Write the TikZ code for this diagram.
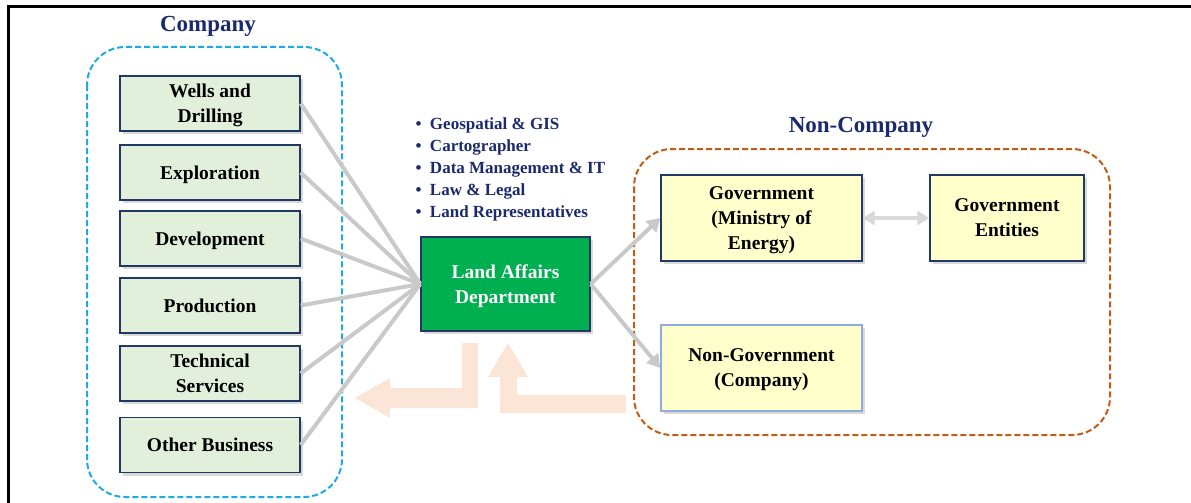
\documentclass[tikz,border=0pt]{standalone}
\usepackage{fontspec}
\setmainfont{Liberation Serif}
\usepackage{xcolor}
\usepackage{tikz}
\usetikzlibrary{arrows.meta,shadows}

\definecolor{navy}{HTML}{1F3864}
\definecolor{titleblue}{HTML}{1A2A6C}
\definecolor{unitfill}{HTML}{E2EFDA}
\definecolor{landgreen}{HTML}{00B050}
\definecolor{govfill}{HTML}{FFFFCC}
\definecolor{lightnavy}{HTML}{8FAADC}
\definecolor{skyblue}{HTML}{1CA9E6}
\definecolor{rust}{HTML}{C55A11}
\definecolor{peach}{HTML}{FBE5D6}
\definecolor{link}{HTML}{C9C9C9}
\definecolor{linklight}{HTML}{D9D9D9}

\begin{document}
\begin{tikzpicture}[
  x=1pt, y=-1pt,
  boxfont/.style={font=\fontsize{19.5}{25}\selectfont\bfseries},
  titlefont/.style={font=\fontsize{23}{27}\selectfont\bfseries, text=titleblue},
  shade box/.style={draw=navy, line width=1.4pt, inner sep=0pt, align=center, boxfont,
    text depth=0pt,
    drop shadow={shadow xshift=3pt, shadow yshift=-3pt, opacity=0.3}},
  unit/.style={shade box, fill=unitfill, minimum width=180pt, minimum height=55pt},
  govbox/.style={shade box, fill=govfill, minimum height=86pt},
  group/.style={rounded corners=38pt, dashed, line width=2pt, dash pattern=on 6pt off 3pt},
  feed/.style={draw=link, line width=4pt},
  flow/.style={draw=link, line width=4pt, -{Triangle[length=13pt,width=15pt]}}
]
  \useasboundingbox (0,0) rectangle (1191,503);
  \draw[line width=3pt] (8,503) -- (8,7) -- (1191,7);

  % company side
  \draw[group, draw=skyblue] (87,47) rectangle (342,497);
  \node[titlefont] (company) at (208,26) {Company};
  \node[unit] (wells) at (210,103.5) {Wells and\\Drilling};
  \node[unit] (explo) at (210,172.5) {Exploration};
  \node[unit] (devel) at (210,238.5) {Development};
  \node[unit] (prod) at (210,305.5) {Production};
  \node[unit] (tech) at (210,373.5) {Technical\\Services};
  \node[unit] (other) at (210,445) {Other Business};

  % feedback arrows
  \fill[peach] (478,343) -- (478,408) -- (390,408) -- (390,418) -- (355,398)
    -- (390,378) -- (390,388) -- (462,388) -- (462,343) -- cycle;
  \fill[peach] (626,395) -- (626,413) -- (500,413) -- (500,377) -- (488,377)
    -- (508,343) -- (528,377) -- (517,377) -- (517,395) -- cycle;

  % land affairs
  \node[shade box, fill=landgreen, text=white, minimum width=169pt, minimum height=94pt]
    (land) at (505.5,284) {Land Affairs\\Department};
  \node[anchor=north west, align=left, text=titleblue,
    font=\fontsize{17}{22}\selectfont\bfseries] (roles) at (412,114)
    {\textbullet\ \ Geospatial \& GIS\\
     \textbullet\ \ Cartographer\\
     \textbullet\ \ Data Management \& IT\\
     \textbullet\ \ Law \& Legal\\
     \textbullet\ \ Land Representatives};

  \foreach \u in {wells,explo,devel,prod,tech,other}
    \draw[feed] (\u.east) -- (land.west);

  % non-company side
  \draw[group, draw=rust] (634,149) rectangle (1110,435);
  \node[titlefont] (noncompany) at (861,127) {Non-Company};
  \node[govbox, minimum width=201pt] (gov) at (761.5,218) {Government\\(Ministry of\\Energy)};
  \node[govbox, minimum width=154pt] (entities) at (1007,218) {Government\\Entities};
  \node[govbox, draw=lightnavy, minimum width=201pt] (nongov) at (761.5,368) {Non-Government\\(Company)};

  \draw[flow] (land.east) -- (gov.west);
  \draw[flow] (land.east) -- (nongov.west);
  \draw[draw=linklight, line width=4pt, {Triangle[length=12pt,width=14pt]}-{Triangle[length=12pt,width=14pt]}]
    (gov.east) -- (entities.west);
\end{tikzpicture}
\end{document}
